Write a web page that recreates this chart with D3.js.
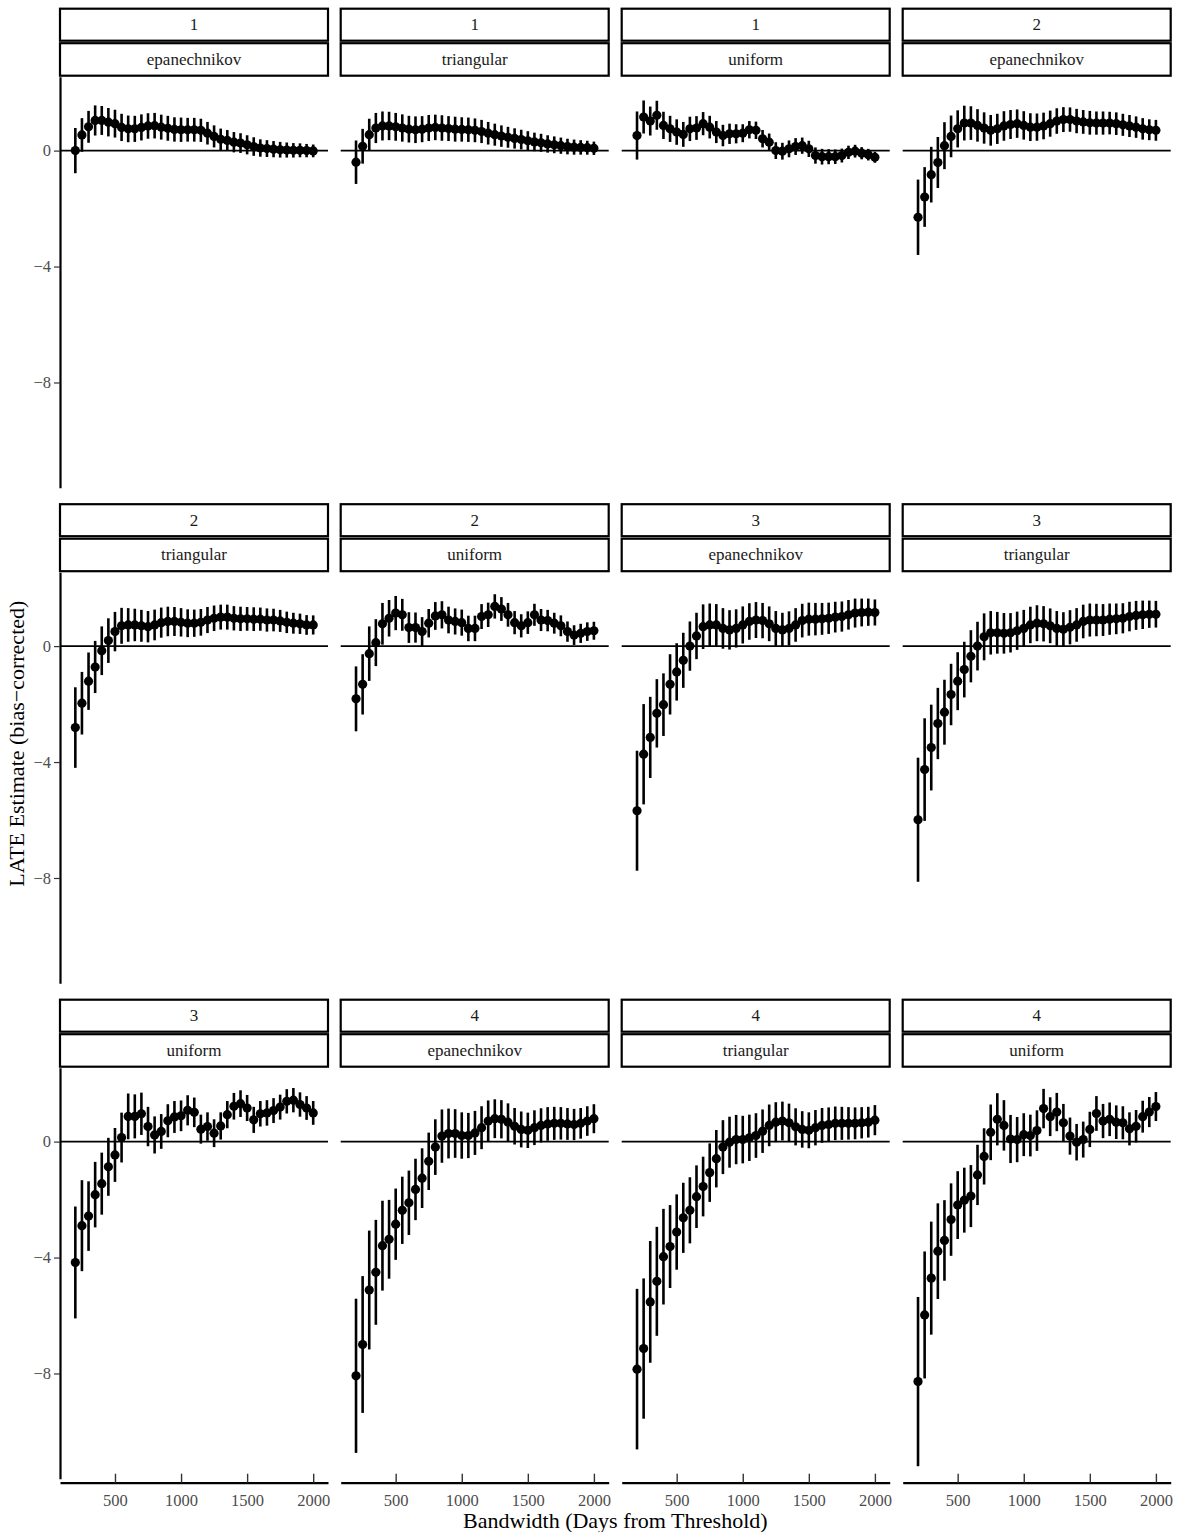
<!DOCTYPE html>
<html><head><meta charset="utf-8">
<script src="https://cdn.jsdelivr.net/npm/d3@7"></script>
<style>body{margin:0;background:#fff}svg{display:block}</style>
</head><body>
<script>
// ---------------- DATA ----------------
const bandwidths = [200,250,300,350,400,450,500,550,600,650,700,750,800,850,900,950,1000,1050,1100,1150,1200,1250,1300,1350,1400,1450,1500,1550,1600,1650,1700,1750,1800,1850,1900,1950,2000];

const facetOrders  = ["1","1","1","2","2","2","3","3","3","4","4","4"];
const facetKernels = ["epanechnikov","triangular","uniform","epanechnikov","triangular","uniform","epanechnikov","triangular","uniform","epanechnikov","triangular","uniform"];

const yTicks = [0,-4,-8];
const xTicks = [500,1000,1500,2000];

// point estimates
const est_1_epa = [0.00,0.54,0.82,1.04,1.04,0.98,0.93,0.80,0.75,0.75,0.80,0.85,0.86,0.81,0.77,0.73,0.72,0.72,0.72,0.70,0.60,0.49,0.39,0.35,0.29,0.26,0.20,0.14,0.09,0.07,0.05,0.03,0.02,0.01,0.01,0.00,-0.01];
const est_1_tri = [-0.40,0.15,0.55,0.78,0.85,0.85,0.82,0.78,0.74,0.72,0.74,0.78,0.80,0.78,0.76,0.74,0.73,0.72,0.70,0.66,0.60,0.55,0.50,0.46,0.42,0.38,0.34,0.30,0.27,0.23,0.20,0.17,0.14,0.12,0.11,0.10,0.08];
const est_1_uni = [0.52,1.16,1.02,1.22,0.87,0.75,0.64,0.56,0.75,0.78,0.93,0.81,0.64,0.52,0.58,0.58,0.60,0.72,0.70,0.41,0.29,0.00,-0.02,0.06,0.14,0.17,0.06,-0.17,-0.21,-0.21,-0.21,-0.17,-0.06,-0.02,-0.09,-0.14,-0.23];
const est_2_epa = [-2.30,-1.60,-0.83,-0.41,0.17,0.49,0.75,0.95,0.95,0.87,0.78,0.70,0.75,0.85,0.90,0.93,0.87,0.81,0.81,0.85,0.93,1.02,1.07,1.07,1.02,0.99,0.96,0.95,0.95,0.95,0.93,0.89,0.85,0.81,0.75,0.72,0.70];
const est_2_tri = [-2.81,-1.97,-1.21,-0.72,-0.16,0.19,0.50,0.70,0.73,0.73,0.70,0.67,0.73,0.81,0.85,0.85,0.82,0.79,0.79,0.82,0.90,0.96,1.00,1.00,0.96,0.94,0.94,0.93,0.93,0.90,0.90,0.87,0.82,0.79,0.77,0.73,0.73];
const est_2_uni = [-1.82,-1.32,-0.26,0.12,0.77,0.96,1.14,1.08,0.64,0.64,0.50,0.79,1.04,1.08,0.90,0.85,0.81,0.61,0.61,1.02,1.08,1.37,1.28,1.08,0.81,0.70,0.81,1.08,0.90,0.88,0.79,0.70,0.50,0.38,0.44,0.50,0.53];
const est_3_epa = [-5.68,-3.73,-3.15,-2.32,-2.02,-1.32,-0.89,-0.49,0.00,0.35,0.67,0.73,0.73,0.61,0.56,0.61,0.73,0.85,0.90,0.88,0.77,0.61,0.56,0.61,0.73,0.88,0.93,0.93,0.94,0.96,1.00,1.02,1.08,1.14,1.16,1.17,1.16];
const est_3_tri = [-5.99,-4.26,-3.50,-2.67,-2.28,-1.67,-1.21,-0.81,-0.35,0.00,0.32,0.46,0.46,0.44,0.46,0.53,0.61,0.73,0.79,0.77,0.70,0.61,0.58,0.65,0.73,0.85,0.90,0.90,0.90,0.93,0.94,0.96,1.02,1.06,1.08,1.10,1.10];
const est_3_uni = [-4.17,-2.90,-2.57,-1.83,-1.45,-0.87,-0.46,0.14,0.87,0.87,0.96,0.52,0.23,0.35,0.72,0.85,0.89,1.08,1.01,0.43,0.52,0.29,0.54,0.93,1.22,1.31,1.16,0.75,0.96,0.99,1.07,1.19,1.39,1.43,1.28,1.16,0.99];
const est_4_epa = [-8.08,-7.00,-5.12,-4.51,-3.59,-3.37,-2.85,-2.37,-2.11,-1.65,-1.26,-0.68,-0.19,0.19,0.28,0.28,0.21,0.21,0.30,0.48,0.71,0.79,0.77,0.67,0.53,0.42,0.39,0.48,0.56,0.61,0.63,0.63,0.61,0.59,0.63,0.71,0.79];
const est_4_tri = [-7.85,-7.14,-5.53,-4.82,-3.97,-3.62,-3.12,-2.63,-2.37,-1.90,-1.55,-1.07,-0.59,-0.19,-0.02,0.07,0.07,0.13,0.21,0.36,0.56,0.67,0.71,0.65,0.51,0.42,0.39,0.48,0.56,0.59,0.63,0.63,0.63,0.63,0.65,0.67,0.74];
const est_4_uni = [-8.28,-5.98,-4.71,-3.78,-3.41,-2.69,-2.19,-2.02,-1.88,-1.15,-0.51,0.32,0.77,0.56,0.09,0.07,0.24,0.21,0.38,1.14,0.86,1.02,0.65,0.19,-0.02,0.07,0.42,0.97,0.71,0.77,0.67,0.65,0.44,0.53,0.86,1.02,1.21];

// half-widths of the confidence intervals
const hw_1_epa = [0.78,0.58,0.55,0.52,0.50,0.49,0.48,0.47,0.46,0.45,0.45,0.44,0.44,0.43,0.43,0.42,0.42,0.41,0.41,0.40,0.39,0.38,0.37,0.36,0.35,0.34,0.33,0.32,0.30,0.29,0.28,0.27,0.26,0.25,0.24,0.23,0.22];
const hw_1_tri = [0.75,0.60,0.55,0.52,0.50,0.49,0.48,0.47,0.46,0.46,0.45,0.45,0.44,0.44,0.43,0.43,0.42,0.42,0.41,0.40,0.39,0.38,0.37,0.36,0.35,0.34,0.33,0.32,0.31,0.30,0.29,0.28,0.27,0.26,0.25,0.24,0.23];
const hw_1_uni = [0.83,0.57,0.50,0.50,0.47,0.45,0.44,0.43,0.42,0.41,0.40,0.39,0.38,0.37,0.35,0.33,0.31,0.30,0.30,0.30,0.30,0.29,0.29,0.29,0.29,0.28,0.28,0.28,0.27,0.26,0.25,0.24,0.23,0.22,0.21,0.20,0.19];
const hw_2_epa = [1.30,1.03,0.96,0.88,0.81,0.72,0.64,0.60,0.58,0.56,0.54,0.53,0.52,0.51,0.50,0.49,0.49,0.48,0.47,0.46,0.45,0.44,0.43,0.42,0.42,0.41,0.41,0.40,0.40,0.39,0.39,0.38,0.38,0.37,0.37,0.36,0.36];
const hw_2_tri = [1.39,1.08,0.99,0.90,0.84,0.77,0.68,0.62,0.58,0.56,0.55,0.54,0.53,0.52,0.51,0.50,0.49,0.48,0.47,0.46,0.45,0.44,0.43,0.43,0.42,0.42,0.41,0.41,0.40,0.40,0.39,0.38,0.37,0.36,0.35,0.34,0.33];
const hw_2_uni = [1.12,1.04,0.94,0.81,0.72,0.63,0.59,0.55,0.53,0.52,0.50,0.49,0.48,0.47,0.46,0.45,0.45,0.44,0.44,0.43,0.42,0.42,0.41,0.41,0.40,0.40,0.39,0.38,0.38,0.37,0.36,0.36,0.35,0.34,0.33,0.32,0.31];
const hw_3_epa = [2.07,1.73,1.40,1.18,1.08,1.04,0.99,0.95,0.85,0.80,0.77,0.74,0.72,0.70,0.68,0.66,0.64,0.63,0.62,0.61,0.60,0.60,0.59,0.59,0.58,0.58,0.57,0.56,0.55,0.54,0.53,0.52,0.51,0.50,0.48,0.47,0.45];
const hw_3_tri = [2.14,1.77,1.48,1.23,1.12,1.06,1.00,0.96,0.90,0.84,0.81,0.75,0.72,0.70,0.68,0.66,0.64,0.63,0.62,0.61,0.60,0.60,0.59,0.59,0.58,0.58,0.57,0.56,0.55,0.54,0.53,0.52,0.51,0.50,0.49,0.47,0.46];
const hw_3_uni = [1.93,1.57,1.20,1.13,1.07,1.00,0.93,0.86,0.79,0.76,0.73,0.68,0.64,0.60,0.57,0.55,0.53,0.52,0.51,0.50,0.49,0.48,0.47,0.47,0.46,0.46,0.45,0.45,0.44,0.44,0.43,0.43,0.42,0.42,0.42,0.41,0.41];
const hw_4_epa = [2.66,2.36,2.05,1.81,1.55,1.36,1.23,1.16,1.11,1.06,1.03,0.99,0.96,0.92,0.86,0.84,0.80,0.78,0.76,0.74,0.71,0.67,0.66,0.65,0.63,0.62,0.61,0.60,0.59,0.58,0.57,0.56,0.55,0.54,0.53,0.51,0.50];
const hw_4_tri = [2.77,2.42,2.10,1.88,1.65,1.43,1.30,1.21,1.14,1.08,1.03,1.01,0.99,0.93,0.88,0.85,0.82,0.80,0.77,0.75,0.72,0.69,0.67,0.66,0.64,0.63,0.62,0.61,0.60,0.59,0.58,0.57,0.56,0.55,0.54,0.53,0.52];
const hw_4_uni = [2.92,2.19,1.95,1.65,1.39,1.25,1.17,1.12,1.07,1.04,0.97,0.96,0.90,0.87,0.83,0.78,0.74,0.72,0.70,0.68,0.67,0.66,0.65,0.64,0.63,0.62,0.61,0.60,0.59,0.58,0.58,0.57,0.57,0.56,0.55,0.52,0.50];

const facetEstimates = [est_1_epa,est_1_tri,est_1_uni,est_2_epa,est_2_tri,est_2_uni,est_3_epa,est_3_tri,est_3_uni,est_4_epa,est_4_tri,est_4_uni];
const facetHalfWidths = [hw_1_epa,hw_1_tri,hw_1_uni,hw_2_epa,hw_2_tri,hw_2_uni,hw_3_epa,hw_3_tri,hw_3_uni,hw_4_epa,hw_4_tri,hw_4_uni];

// ---------------- LAYOUT ----------------
const W = 1180, H = 1532;
const FONT = "'Liberation Serif','Times New Roman',serif";
const colLeft = [60, 340.7, 621.7, 902.7];
const rowTop = [76.7, 572.2, 1067.7];
const panelW = 268, panelH = 411;

const x = d3.scaleLinear().domain([84, 2112]).range([0, panelW]);
const y = d3.scaleLinear().domain([-11.63, 2.55]).range([panelH, 0]);

const svg = d3.select("body").append("svg").attr("width", W).attr("height", H)
  .style("font-family", FONT);

facetOrders.forEach((ord, i) => {
  const r = Math.floor(i / 4), c = i % 4;
  const g = svg.append("g").attr("transform", `translate(${colLeft[c]},${rowTop[r]})`);

  // strips
  const strips = [{t: ord, top: -68, h: 32}, {t: facetKernels[i], top: -33.5, h: 32.5}];
  strips.forEach(s => {
    g.append("rect").attr("x", 0).attr("y", s.top).attr("width", panelW).attr("height", s.h)
      .attr("fill", "#fff").attr("stroke", "#000").attr("stroke-width", 2.2);
    g.append("text").attr("x", panelW / 2).attr("y", s.top + s.h / 2)
      .attr("text-anchor", "middle").attr("dominant-baseline", "central")
      .attr("font-size", 17).attr("fill", "#1a1a1a").text(s.t);
  });

  // zero reference line
  g.append("line").attr("x1", 0).attr("x2", panelW).attr("y1", y(0)).attr("y2", y(0))
    .attr("stroke", "#000").attr("stroke-width", 1.6);

  const data = bandwidths.map((b, k) => ({b, est: facetEstimates[i][k], hw: facetHalfWidths[i][k]}));

  g.append("g").selectAll("line").data(data).join("line")
    .attr("x1", d => x(d.b)).attr("x2", d => x(d.b))
    .attr("y1", d => y(d.est - d.hw)).attr("y2", d => y(d.est + d.hw))
    .attr("stroke", "#000").attr("stroke-width", 2.6);

  g.append("g").selectAll("circle").data(data).join("circle")
    .attr("cx", d => x(d.b)).attr("cy", d => y(d.est)).attr("r", 4.6).attr("fill", "#000");

  // y axis in the first column
  if (c === 0) {
    const ax = g.append("g").call(d3.axisLeft(y).tickValues(yTicks).tickSizeInner(6).tickSizeOuter(0).tickPadding(3)
      .tickFormat(d => d < 0 ? "\u2212" + Math.abs(d) : String(d)));
    ax.select(".domain").attr("stroke", "#000").attr("stroke-width", 2.2);
    ax.selectAll(".tick line").attr("stroke", "#333").attr("stroke-width", 1.2);
    ax.selectAll(".tick text").attr("fill", "#4d4d4d").attr("font-size", 16.5).attr("font-family", FONT);
  }
  // x axis in the bottom row
  if (r === 2) {
    const ax = g.append("g").attr("transform", `translate(0,${panelH + 4})`)
      .call(d3.axisBottom(x).tickValues(xTicks).tickFormat(d3.format("d"))
        .tickSizeInner(-9).tickSizeOuter(0).tickPadding(12));
    ax.select(".domain").attr("stroke", "#000").attr("stroke-width", 2.2);
    ax.selectAll(".tick line").attr("stroke", "#333").attr("stroke-width", 1.4);
    ax.selectAll(".tick text").attr("fill", "#4d4d4d").attr("font-size", 16.5).attr("font-family", FONT);
  }
});

// axis titles
svg.append("text").attr("x", (colLeft[0] + colLeft[3] + panelW) / 2).attr("y", 1528)
  .attr("text-anchor", "middle").attr("font-size", 22).attr("fill", "#000")
  .text("Bandwidth (Days from Threshold)");
svg.append("text").attr("transform", `translate(24,${(rowTop[0] - 68 + rowTop[2] + panelH) / 2}) rotate(-90)`)
  .attr("text-anchor", "middle").attr("font-size", 22).attr("fill", "#000")
  .text("LATE Estimate (bias\u2212corrected)");
</script>
</body></html>
